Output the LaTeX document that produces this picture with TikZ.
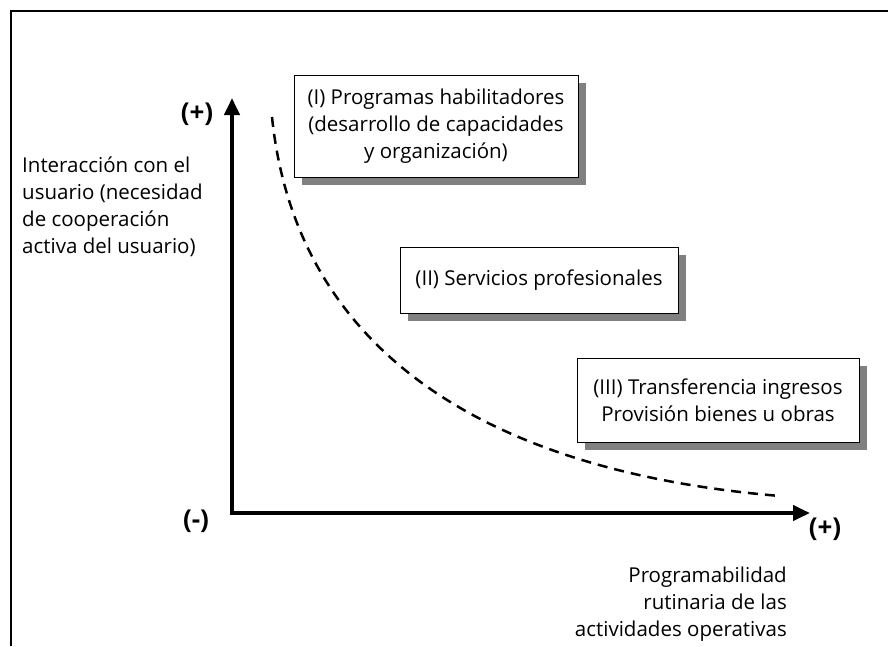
\documentclass[tikz,border=0pt]{standalone}
\usepackage{fontspec}
\setmainfont{Open Sans}
\usetikzlibrary{arrows.meta,shadows}

\begin{document}
\begin{tikzpicture}[x=1pt,y=-1pt,
    boite/.style={draw,line width=1pt,fill=white,align=center,inner sep=0pt,
      drop shadow={shadow xshift=8pt,shadow yshift=-8pt,fill=gray,opacity=1}},
    texte/.style={font=\fontsize{20.5}{27}\selectfont,inner sep=0pt},
    signe/.style={font=\fontsize{26}{30}\selectfont\bfseries,inner sep=0pt},
    axe/.style={line width=4pt,line join=miter,
      {Triangle[length=17pt,width=15pt]}-{Triangle[length=17pt,width=15pt]}}]
    \useasboundingbox (0,0) rectangle (888,646);

    % Dessine le cadre
    \draw[line width=2pt] (11,646) -- (11,11) -- (888,11);

    % Dessine les axes
    \coordinate (origine) at (232,513);
    \coordinate (hauty) at (232,98);
    \coordinate (droitex) at (810,513);
    \draw[axe] (hauty) -- (origine) -- (droitex);

    % Dessine la courbe
    \coordinate (debut) at (272,117);
    \coordinate (fin) at (780,496);
    \draw[line width=2.5pt,dash pattern=on 10pt off 7pt] (debut) .. controls (295,340) and (470,470) .. (fin);

    % Les boites
    \node[boite,texte,minimum width=284pt,minimum height=102pt] (prog) at (436,126)
      {(I) Programas habilitadores\\(desarrollo de capacidades\\y organización)};
    \node[boite,texte,minimum width=278pt,minimum height=66pt] (serv) at (539,280)
      {(II) Servicios profesionales};
    \node[boite,texte,minimum width=282pt,minimum height=84pt] (trans) at (718,400)
      {(III) Transferencia ingresos\\Provisión bienes u obras};

    % Les signes et les étiquettes
    \node[signe] (plusy) at (197,114) {(+)};
    \node[signe] (moins) at (196,521) {(-)};
    \node[signe] (plusx) at (825,529) {(+)};
    \node[texte,align=left,anchor=north west] (etiqy) at (22,157)
      {Interacción con el\\usuario (necesidad\\de cooperación\\activa del usuario)};
    \node[texte,align=right,anchor=north east] (etiqx) at (787,567)
      {Programabilidad\\rutinaria de las\\actividades operativas};
\end{tikzpicture}
\end{document}
